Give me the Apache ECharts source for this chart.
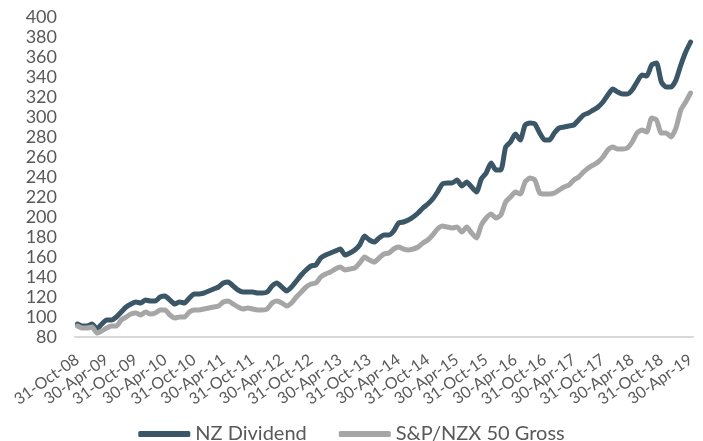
<!DOCTYPE html>
<html>
<head>
<meta charset="utf-8">
<script src="https://cdn.jsdelivr.net/npm/echarts@6/dist/echarts.min.js"></script>
<style>
  html, body { margin: 0; padding: 0; background: #fff; }
  #chart { width: 703px; height: 441px; }
</style>
</head>
<body>
<div id="chart"></div>
<script>
// month-end dates, Oct 2008 .. Apr 2019
const MONTHS = ['Jan', 'Feb', 'Mar', 'Apr', 'May', 'Jun', 'Jul', 'Aug', 'Sep', 'Oct', 'Nov', 'Dec']
const startYear = 2008
const startMonth = 9
const monthCount = 127

const nzDividend = [
  93, 91, 91, 93, 88, 93, 97, 97, 100, 105,
  110, 113, 115, 114, 117, 116, 116, 120, 121, 117,
  113, 115, 114, 119, 123, 123, 124, 126, 128, 130,
  134, 135, 131, 127, 125, 125, 125, 124, 124, 125,
  131, 134, 130, 126, 130, 136, 142, 147, 151, 152,
  159, 162, 164, 166, 168, 162, 164, 167, 172, 181,
  177, 175, 179, 182, 182, 186, 194, 195, 197, 200,
  204, 209, 213, 218, 225, 233, 234, 234, 237, 231,
  235, 230, 225, 238, 244, 254, 247, 247, 270, 275,
  283, 277, 292, 294, 293, 284, 277, 277, 284, 289,
  290, 291, 292, 297, 302, 304, 307, 310, 315, 322,
  328, 325, 323, 323, 327, 335, 342, 341, 352, 354,
  335, 330, 330, 337, 352, 365, 375,
]

const nzx50Gross = [
  91, 89, 89, 90, 84, 86, 89, 91, 91, 97,
  100, 103, 104, 102, 105, 103, 104, 107, 107, 102,
  99, 100, 100, 105, 107, 107, 108, 109, 110, 111,
  115, 116, 113, 110, 108, 109, 108, 107, 107, 108,
  114, 116, 114, 111, 114, 120, 125, 130, 133, 134,
  140, 143, 145, 148, 150, 147, 148, 149, 154, 160,
  157, 155, 159, 163, 164, 168, 170, 168, 167, 168,
  170, 174, 177, 182, 188, 191, 190, 189, 190, 185,
  190, 184, 179, 192, 199, 203, 199, 202, 215, 220,
  225, 223, 235, 239, 237, 224, 223, 223, 224, 227,
  230, 232, 237, 240, 245, 249, 252, 255, 260, 267,
  270, 268, 268, 269, 275, 284, 287, 285, 299, 297,
  284, 284, 280, 289, 307, 315, 324,
]

function monthEndLabel(i) {
  const y = startYear + Math.floor((startMonth + i) / 12)
  const m = (startMonth + i) % 12
  const day = new Date(Date.UTC(y, m + 1, 0)).getUTCDate()
  return `${day}-${MONTHS[m]}-${String(y % 100).padStart(2, '0')}`
}

const categories = Array.from({ length: monthCount }, (_, i) => monthEndLabel(i))

const textColor = '#595959'
const font = 'Lato, "Open Sans", sans-serif'

const chart = echarts.init(document.getElementById('chart'))
chart.setOption({
  animation: false,
  color: ['#3b5767', '#a6a6a6'],
  grid: { left: 75, right: 10, top: 17, bottom: 104, containLabel: false },
  legend: {
    top: 419,
    left: 'center',
    icon: 'roundRect',
    itemWidth: 52,
    itemHeight: 6,
    itemGap: 32,
    textStyle: { color: textColor, fontSize: 20, fontFamily: font },
  },
  xAxis: {
    type: 'category',
    data: categories,
    boundaryGap: true,
    axisLine: { lineStyle: { color: '#d9d9d9', width: 2 } },
    axisTick: { interval: 0, length: 5, lineStyle: { color: '#d9d9d9', width: 1.5 } },
    axisLabel: {
      interval: 5,
      rotate: 35,
      margin: 21,
      showMinLabel: true,
      showMaxLabel: true,
      hideOverlap: false,
      color: textColor,
      fontSize: 16,
      fontFamily: font,
    },
  },
  yAxis: {
    type: 'value',
    min: 80,
    max: 400,
    interval: 20,
    axisLine: { show: false },
    axisTick: { show: false },
    splitLine: { show: false },
    axisLabel: { color: textColor, fontSize: 18, fontFamily: font, margin: 18 },
  },
  series: [
    {
      name: 'NZ Dividend',
      type: 'line',
      data: nzDividend,
      showSymbol: false,
      symbol: 'none',
      smooth: 0.2,
      lineStyle: { width: 5, cap: 'round', join: 'round' },
    },
    {
      name: 'S&P/NZX 50 Gross',
      type: 'line',
      data: nzx50Gross,
      showSymbol: false,
      symbol: 'none',
      smooth: 0.2,
      lineStyle: { width: 5, cap: 'round', join: 'round' },
    },
  ],
})
</script>
</body>
</html>
